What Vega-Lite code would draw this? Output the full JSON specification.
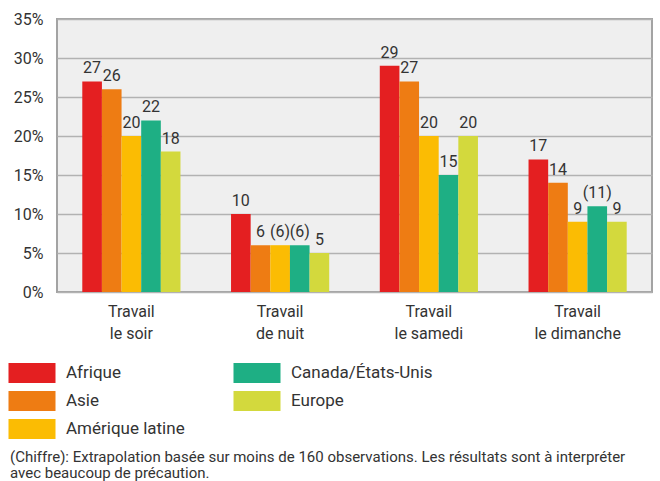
{
  "$schema": "https://vega.github.io/schema/vega-lite/v6.json",
  "autosize": {"type": "none"},
  "width": 595,
  "height": 273,
  "padding": {"left": 57, "top": 19, "right": 8, "bottom": 189},
  "background": "white",
  "data": {
    "values": [
      {"travail": "Travail le soir", "region": "Afrique", "valeur": 27, "libelle": "27"},
      {"travail": "Travail le soir", "region": "Asie", "valeur": 26, "libelle": "26"},
      {"travail": "Travail le soir", "region": "Amérique latine", "valeur": 20, "libelle": "20"},
      {"travail": "Travail le soir", "region": "Canada/États-Unis", "valeur": 22, "libelle": "22"},
      {"travail": "Travail le soir", "region": "Europe", "valeur": 18, "libelle": "18"},
      {"travail": "Travail de nuit", "region": "Afrique", "valeur": 10, "libelle": "10"},
      {"travail": "Travail de nuit", "region": "Asie", "valeur": 6, "libelle": "6"},
      {"travail": "Travail de nuit", "region": "Amérique latine", "valeur": 6, "libelle": "(6)"},
      {"travail": "Travail de nuit", "region": "Canada/États-Unis", "valeur": 6, "libelle": "(6)"},
      {"travail": "Travail de nuit", "region": "Europe", "valeur": 5, "libelle": "5"},
      {"travail": "Travail le samedi", "region": "Afrique", "valeur": 29, "libelle": "29"},
      {"travail": "Travail le samedi", "region": "Asie", "valeur": 27, "libelle": "27"},
      {"travail": "Travail le samedi", "region": "Amérique latine", "valeur": 20, "libelle": "20"},
      {"travail": "Travail le samedi", "region": "Canada/États-Unis", "valeur": 15, "libelle": "15"},
      {"travail": "Travail le samedi", "region": "Europe", "valeur": 20, "libelle": "20"},
      {"travail": "Travail le dimanche", "region": "Afrique", "valeur": 17, "libelle": "17"},
      {"travail": "Travail le dimanche", "region": "Asie", "valeur": 14, "libelle": "14"},
      {"travail": "Travail le dimanche", "region": "Amérique latine", "valeur": 9, "libelle": "9"},
      {"travail": "Travail le dimanche", "region": "Canada/États-Unis", "valeur": 11, "libelle": "(11)"},
      {"travail": "Travail le dimanche", "region": "Europe", "valeur": 9, "libelle": "9"}
    ]
  },
  "title": {
    "text": ["(Chiffre): Extrapolation basée sur moins de 160 observations. Les résultats sont à interpréter", "avec beaucoup de précaution."],
    "orient": "bottom",
    "anchor": "start",
    "frame": "group",
    "dx": -47,
    "offset": 11,
    "font": "Roboto",
    "fontSize": 15,
    "fontWeight": "normal",
    "color": "#333333",
    "lineHeight": 16
  },
  "encoding": {
    "x": {
      "field": "travail",
      "type": "nominal",
      "sort": ["Travail le soir", "Travail de nuit", "Travail le samedi", "Travail le dimanche"],
      "scale": {"paddingInner": 0.34, "paddingOuter": 0.17},
      "axis": {
        "title": null,
        "labelAngle": 0,
        "labelExpr": "['Travail', substring(datum.label, 8)]",
        "labelFont": "Roboto",
        "labelFontSize": 16,
        "labelColor": "#333333",
        "labelLineHeight": 22,
        "labelPadding": 11,
        "ticks": false,
        "domain": false
      }
    },
    "xOffset": {
      "field": "region",
      "type": "nominal",
      "sort": ["Afrique", "Asie", "Amérique latine", "Canada/États-Unis", "Europe"],
      "scale": {"paddingInner": 0, "paddingOuter": 0}
    },
    "y": {
      "field": "valeur",
      "type": "quantitative",
      "scale": {"domain": [0, 35], "nice": false},
      "axis": {
        "title": null,
        "values": [0, 5, 10, 15, 20, 25, 30, 35],
        "labelExpr": "datum.value + '%'",
        "labelFont": "Roboto",
        "labelFontSize": 16,
        "labelColor": "#333333",
        "labelPadding": 14,
        "ticks": false,
        "domain": false,
        "grid": true,
        "gridColor": "#b2b2b2",
        "gridWidth": 1.5
      }
    }
  },
  "layer": [
    {
      "mark": {"type": "bar"},
      "encoding": {
        "color": {
          "field": "region",
          "type": "nominal",
          "scale": {
            "domain": ["Afrique", "Asie", "Amérique latine", "Canada/États-Unis", "Europe"],
            "range": ["#e41f21", "#ee7c13", "#fbbc03", "#1eaf84", "#d3d93d"]
          },
          "legend": {
            "title": null,
            "orient": "none",
            "legendX": -39,
            "legendY": 340,
            "columns": 2,
            "columnPadding": 48,
            "rowPadding": 4,
            "symbolType": "M-1.679,-0.714H1.679V0.714H-1.679Z",
            "symbolSize": 784,
            "symbolStrokeWidth": 0,
            "symbolOpacity": 1,
            "labelFont": "Roboto",
            "labelFontSize": 17,
            "labelColor": "#333333",
            "labelOffset": 20,
            "labelLimit": 300
          }
        }
      }
    },
    {
      "mark": {
        "type": "text",
        "baseline": "bottom",
        "dy": -5,
        "font": "Roboto",
        "fontSize": 16,
        "color": "#333333"
      },
      "encoding": {
        "text": {"field": "libelle"}
      }
    }
  ],
  "config": {
    "view": {"fill": "#efefef", "stroke": "#a3a3a3", "strokeWidth": 2}
  }
}
